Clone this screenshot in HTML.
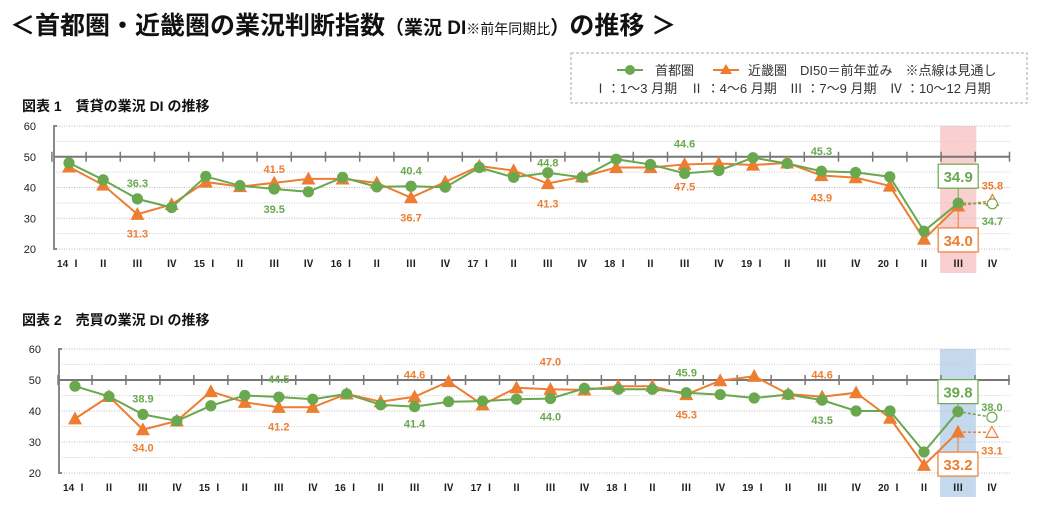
<!DOCTYPE html>
<html><head><meta charset="utf-8">
<style>
body{margin:0;background:#fff;width:1042px;height:513px;overflow:hidden;font-family:"Liberation Sans","Noto Sans CJK JP",sans-serif;}
svg{display:block}
</style></head>
<body>
<svg id="root" width="1042" height="513" xmlns="http://www.w3.org/2000/svg" font-family="Liberation Sans, Noto Sans CJK JP, sans-serif">
  <text x="10" y="34" font-size="25" font-weight="bold" fill="#111">＜首都圏・近畿圏の業況判断指数<tspan font-size="19">（業況 DI</tspan><tspan font-size="14" font-weight="normal">※前年同期比</tspan><tspan font-size="19">）</tspan>の推移 ＞</text>
  <g>
    <rect x="571" y="53" width="456" height="50" fill="none" stroke="#aaa" stroke-dasharray="3,2"/>
    <g>
      <line x1="617" y1="70" x2="643" y2="70" stroke="#6aa84f" stroke-width="2"/>
      <circle cx="630" cy="70" r="5" fill="#6aa84f"/>
      <text x="655" y="75" font-size="13" fill="#333">首都圏</text>
    </g>
    <g>
      <line x1="713" y1="70" x2="739" y2="70" stroke="#ed7d31" stroke-width="2"/>
      <polygon points="726,64 732,74 720,74" fill="#ed7d31"/>
      <text x="748" y="75" font-size="13" fill="#333">近畿圏　DI50＝前年並み　※点線は見通し</text>
    </g>
    <text x="594" y="93" font-size="13" fill="#333">Ⅰ：1～3 月期　Ⅱ ：4～6 月期　Ⅲ ：7～9 月期　Ⅳ ：10～12 月期</text>
  </g>
  <text x="22" y="111" font-size="14" font-weight="bold" fill="#111">図表 1　賃貸の業況 DI の推移</text>
  <text x="22" y="325" font-size="14" font-weight="bold" fill="#111">図表 2　売買の業況 DI の推移</text>
  <g id="c1"></g>
  <g id="c2"></g>
</svg>
<script>
const categories = ["14 Ⅰ","Ⅱ","Ⅲ","Ⅳ","15 Ⅰ","Ⅱ","Ⅲ","Ⅳ","16 Ⅰ","Ⅱ","Ⅲ","Ⅳ","17 Ⅰ","Ⅱ","Ⅲ","Ⅳ","18 Ⅰ","Ⅱ","Ⅲ","Ⅳ","19 Ⅰ","Ⅱ","Ⅲ","Ⅳ","20 Ⅰ","Ⅱ","Ⅲ","Ⅳ"];
const yTicks = [20,30,40,50,60];
const rentShuto = [48.0,42.5,36.3,33.5,43.6,40.6,39.5,38.6,43.3,40.2,40.4,40.1,46.5,43.3,44.8,43.3,49.2,47.5,44.6,45.5,49.7,47.8,45.3,44.9,43.5,25.8,34.9,34.7];
const rentKinki = [46.7,40.8,31.3,34.5,41.8,40.3,41.5,42.8,42.8,41.5,36.7,41.8,47.0,45.5,41.3,43.5,46.5,46.5,47.5,47.8,47.3,48.0,43.9,43.2,40.5,23.2,34.0,35.8];
const saleShuto = [48.0,44.7,38.9,36.8,41.7,45.0,44.5,43.8,45.5,42.0,41.4,43.0,43.2,43.8,44.0,47.3,47.0,47.0,45.9,45.3,44.2,45.3,43.5,40.0,40.0,26.8,39.8,38.0];
const saleKinki = [37.5,44.7,34.0,36.8,46.3,42.8,41.2,41.2,45.5,43.0,44.6,49.5,42.0,47.5,47.0,46.8,48.0,48.0,45.3,49.8,51.2,45.5,44.6,45.9,37.7,22.5,33.2,33.1];
// labels: [index, series('s'|'k'), dy]
const rentLabels = [[2,'s',-16],[2,'k',19],[6,'k',-14],[6,'s',20],[10,'s',-16],[10,'k',20],[14,'s',-10],[14,'k',20],[18,'s',-30],[18,'k',22],[22,'s',-20],[22,'k',22],[27,'k',-15],[27,'s',17]];
const saleLabels = [[2,'s',-16],[2,'k',18],[6,'s',-18],[6,'k',19],[10,'k',-22],[10,'s',17],[14,'k',-28],[14,'s',18],[18,'s',-20],[18,'k',20],[22,'k',-22],[22,'s',20],[27,'s',-10],[27,'k',18]];
const NS="http://www.w3.org/2000/svg";
const GREEN="#6aa84f", ORANGE="#ed7d31";
function mk(parent,tag,attrs){const e=document.createElementNS(NS,tag);for(const k in attrs)e.setAttribute(k,attrs[k]);parent.appendChild(e);return e;}
function drawChart(g,cfg){
  const {axisX,right,top,bottom,x0,step,shuto,kinki,labels,bandColor,boxS,boxK}=cfg;
  const y=v=>bottom-(v-20)/40*(bottom-top);
  const x=i=>x0+i*step;
  const bandR=mk(g,'rect',{x:x(26)-step/2-1,y:top,width:step+2,height:bottom-top+24,fill:bandColor});
  
  
  for(const t of yTicks){
    const ln=mk(g,'line',{x1:axisX,x2:right,y1:y(t),y2:y(t),stroke:'#bbb','stroke-dasharray':'1,1.5'});
    
    
    const tx=mk(g,'text',{x:axisX-18,y:y(t)+4,'font-size':11,'text-anchor':'end',fill:'#222'});
    tx.textContent=t;
    
    
  }
  for(const t of [25,35,45,55]){
    const ln=mk(g,'line',{x1:axisX,x2:right,y1:y(t),y2:y(t),stroke:'#ccc','stroke-dasharray':'1,1.5'});
    
    
  }
  const ax=mk(g,'path',{d:`M${axisX+3},${top} H${axisX} V${bottom} H${axisX+3}`,fill:'none',stroke:'#888','stroke-width':2});
  
  
  const base=mk(g,'line',{x1:axisX,x2:right,y1:y(50),y2:y(50),stroke:'#777','stroke-width':2});
  
  
  for(let k=0;k<=categories.length;k++){
    const tk=mk(g,'line',{x1:x(k)-step/2,x2:x(k)-step/2,y1:y(50)-5,y2:y(50)+5,stroke:'#777','stroke-width':1.5});
    
    
  }
  categories.forEach((c,i)=>{
    const t=mk(g,'text',{x:x(i),y:bottom+18,'font-size':10,'text-anchor':'middle',fill:'#222','font-weight':'bold'});
    t.textContent=c;
    
    
  });
  function series(vals,color,name,marker){
    const n=vals.length;
    const pts=vals.slice(0,n-1).map((v,i)=>`${x(i)},${y(v)}`).join(' ');
    const pl=mk(g,'polyline',{points:pts,fill:'none',stroke:color,'stroke-width':2});
    
    
    const dl=mk(g,'line',{x1:x(n-2),y1:y(vals[n-2]),x2:x(n-1),y2:y(vals[n-1]),stroke:color,'stroke-width':1.5,'stroke-dasharray':'3,2'});
    
    
    vals.forEach((v,i)=>{
      const last=i===n-1;
      let m;
      if(marker==='c') m=mk(g,'circle',{cx:x(i),cy:y(v),r:5,fill:last?'#fff':color,stroke:color,'stroke-width':1.2});
      else m=mk(g,'polygon',{points:`${x(i)},${y(v)-6} ${x(i)+6},${y(v)+5} ${x(i)-6},${y(v)+5}`,fill:last?'#fff':color,stroke:color,'stroke-width':1.2});
      
      
    });
  }
  series(kinki,ORANGE,'kinki','t');
  series(shuto,GREEN,'shuto','c');
  labels.forEach(([i,s,dy])=>{
    const v=s==='s'?shuto[i]:kinki[i];
    const t=mk(g,'text',{x:x(i),y:y(v)+dy+4,'font-size':11,'font-weight':'bold','text-anchor':'middle',fill:s==='s'?GREEN:ORANGE});
    t.textContent=v.toFixed(1);
    
    
  });
  [[shuto[26],GREEN,boxS,'shuto-callout'],[kinki[26],ORANGE,boxK,'kinki-callout']].forEach(([v,col,dy,nm])=>{
    const cy=y(v)+dy;
    mk(g,'line',{x1:x(26),y1:y(v),x2:x(26),y2:cy,stroke:col,'stroke-width':1});
    const r=mk(g,'rect',{x:x(26)-20,y:cy-12,width:40,height:24,fill:'#fff',stroke:col,'stroke-width':1.2});
    
    
    const t=mk(g,'text',{x:x(26),y:cy+6,'font-size':15,'font-weight':'bold','text-anchor':'middle',fill:col});
    t.textContent=v.toFixed(1);
    
    
  });
}
drawChart(document.getElementById('c1'),{axisX:54,right:1010,top:126,bottom:249,x0:69,step:34.2,shuto:rentShuto,kinki:rentKinki,labels:rentLabels,bandColor:'#f9cfcf',boxS:-27,boxK:34});
drawChart(document.getElementById('c2'),{axisX:59,right:1010,top:349,bottom:473,x0:75,step:33.96,shuto:saleShuto,kinki:saleKinki,labels:saleLabels,bandColor:'#c5d9ee',boxS:-20,boxK:32});
</script>
</body></html>
